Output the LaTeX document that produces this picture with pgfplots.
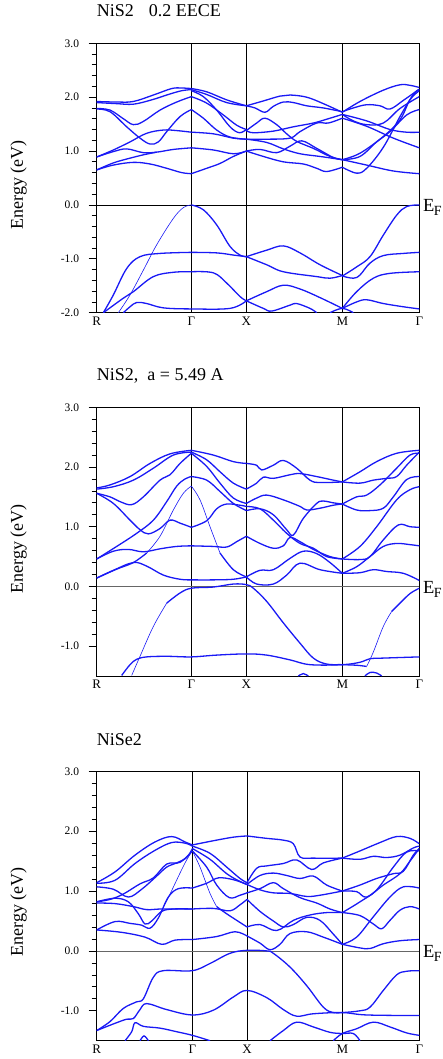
\documentclass[border=0pt]{standalone}
\usepackage{fontspec}
\setmainfont{Liberation Serif}
\usepackage{pgfplots}
\pgfplotsset{compat=1.18}
\definecolor{band}{RGB}{25,25,245}
\pgfplotsset{
  bandaxis/.style={
    scale only axis, width=322.6pt, anchor=north west,
    xmin=290, xmax=1258,
    xticklabels={R,Γ,X,M,Γ},
    xmajorgrids, x grid style={black, line width=0.7pt},
    major x tick style={draw=none},
    minor y tick num=4,
    tick align=outside, ytick pos=left, xtick pos=bottom,
    major tick length=8pt, minor tick length=5pt,
    y tick style={black, line width=0.7pt},
    axis line style={black, line width=0.8pt},
    clip mode=individual,
    cycle list={{band,solid}},
    yticklabel style={font=\fontsize{11.5}{12}\selectfont, inner sep=0pt, anchor=east, xshift=-9.4pt},
    xticklabel style={font=\fontsize{13}{13}\selectfont, inner sep=0pt, anchor=north, yshift=4.2pt},
    every axis plot/.append style={band, line width=1.3pt, smooth, tension=0.6, no marks},
  },
  thin/.style={line width=0.6pt},
}
\newcommand{\EF}{\node[anchor=base west, inner sep=0pt, font=\fontsize{18.5}{20}\selectfont] at (axis cs:1258,0) [xshift=3.5pt, yshift=-6.7pt] {E\kern-0.5pt\raisebox{-4.3pt}{\fontsize{14}{14}\selectfont F}};}
\begin{document}
\begin{tikzpicture}
\path[use as bounding box] (0,0) rectangle (442pt,-1059pt);
% ---------------- Panel 1 ----------------
\node[anchor=base west, inner sep=0pt, font=\fontsize{18}{20}\selectfont] at (96.7pt,-16.7pt) {NiS2\hspace{15pt}0.2 EECE};
\node[rotate=90, inner sep=0pt, font=\fontsize{18}{20}\selectfont] at (18.5pt,-185pt) {Energy (eV)};
\begin{axis}[bandaxis, at={(96.7pt,-43.3pt)}, height=269.4pt,
  ymin=-2, ymax=3, ytick={-2,-1,0,1,2,3}, yticklabels={-2.0,-1.0,0.0,1.0,2.0,3.0},
  xtick={290,574,739,1027,1258}]
\addplot[black, line width=0.7pt] coordinates {(290,0) (1258,0)};
% R-Gamma
\addplot coordinates {(290,1.92)(350,1.91)(400,1.92)(460,2.04)(515,2.16)(545,2.17)(574,2.16)};
\addplot coordinates {(290,1.90)(350,1.88)(400,1.87)(455,1.95)(505,2.05)(545,2.12)(574,2.14)};
\addplot coordinates {(290,1.79)(330,1.76)(370,1.60)(400,1.49)(430,1.55)(480,1.76)(530,1.91)(574,2.01)};
\addplot coordinates {(290,1.78)(330,1.73)(380,1.45)(420,1.24)(450,1.13)(475,1.17)(500,1.36)(540,1.64)(574,1.77)};
\addplot coordinates {(290,0.89)(340,1.02)(390,1.17)(440,1.33)(490,1.39)(530,1.38)(574,1.35)};
\addplot coordinates {(290,0.89)(340,0.99)(380,1.04)(430,0.97)(470,0.98)(520,1.03)(574,1.06)};
\addplot coordinates {(290,0.65)(340,0.74)(400,0.79)(450,0.76)(500,0.68)(545,0.60)(574,0.58)};
\addplot coordinates {(290,0.65)(340,0.78)(385,0.86)(430,0.93)(470,0.98)};
% Gamma-X
\addplot coordinates {(574,2.16)(620,2.10)(680,1.95)(739,1.84)};
\addplot coordinates {(574,2.14)(620,2.05)(680,1.90)(739,1.84)};
\addplot coordinates {(574,2.12)(610,2.01)(650,1.76)(690,1.45)(718,1.34)(739,1.40)};
\addplot coordinates {(574,2.01)(620,1.89)(670,1.67)(710,1.48)(739,1.40)};
\addplot coordinates {(574,1.77)(610,1.61)(650,1.39)(690,1.26)(739,1.22)};
\addplot coordinates {(574,1.35)(640,1.32)(700,1.24)(739,1.22)};
\addplot coordinates {(574,1.06)(640,1.02)(700,0.95)(739,1.00)};
\addplot coordinates {(574,0.58)(620,0.68)(660,0.77)(700,0.90)(739,1.00)};
% X-M
\addplot coordinates {(739,1.84)(790,1.93)(840,2.02)(870,2.04)(920,2.00)(970,1.88)(1027,1.72)};
\addplot coordinates {(739,1.84)(765,1.80)(795,1.72)(820,1.83)(850,1.91)(880,1.90)(920,1.84)(970,1.80)(1027,1.73)};
\addplot coordinates {(739,1.38)(770,1.52)(795,1.61)(830,1.49)(860,1.32)(890,1.18)(940,1.05)(990,0.90)(1027,0.84)};
\addplot coordinates {(739,1.38)(760,1.34)(820,1.37)(880,1.45)(940,1.52)(985,1.60)(1027,1.68)};
\addplot coordinates {(739,1.22)(800,1.22)(870,1.24)(900,1.36)(950,1.52)(985,1.52)(1027,1.61)};
\addplot coordinates {(739,1.22)(800,1.16)(850,1.04)(900,0.95)(960,0.90)(1027,0.84)};
\addplot coordinates {(739,1.00)(780,1.03)(830,0.97)(870,1.09)(905,1.19)(950,1.05)(1000,0.88)(1027,0.84)};
\addplot coordinates {(739,1.00)(790,0.90)(850,0.80)(910,0.76)(950,0.68)(980,0.62)(1027,0.70)};
% M-Gamma
\addplot coordinates {(1027,1.72)(1080,1.92)(1150,2.13)(1200,2.23)(1230,2.22)(1258,2.18)};
\addplot coordinates {(1027,1.73)(1060,1.80)(1100,1.86)(1140,1.84)(1170,1.78)(1210,1.94)(1258,2.15)};
\addplot coordinates {(1027,1.68)(1060,1.56)(1100,1.49)(1150,1.52)(1200,1.79)(1258,2.01)};
\addplot coordinates {(1027,1.68)(1100,1.56)(1170,1.40)(1220,1.35)(1258,1.35)};
\addplot coordinates {(1027,1.61)(1100,1.46)(1180,1.24)(1258,1.06)};
\addplot coordinates {(1027,0.84)(1080,0.90)(1130,1.17)(1170,1.36)(1220,1.67)(1258,1.77)};
\addplot coordinates {(1027,0.84)(1080,0.96)(1150,1.27)(1200,1.58)(1230,1.95)(1258,2.12)};
\addplot coordinates {(1027,0.70)(1070,0.59)(1100,0.68)(1150,1.07)(1200,1.64)(1240,2.05)(1258,2.14)};
\addplot coordinates {(1027,0.84)(1100,0.74)(1180,0.63)(1258,0.58)};
% valence R-Gamma
\addplot[thin] coordinates {(355,-2.0)(390,-1.67)(430,-1.21)(470,-0.74)(520,-0.25)(550,-0.05)(574,0.0)};
\addplot coordinates {(310,-2.0)(340,-1.67)(380,-1.18)(420,-0.96)(480,-0.90)(574,-0.88)};
\addplot coordinates {(310,-2.0)(370,-1.73)(400,-1.61)(460,-1.33)(520,-1.25)(574,-1.24)};
\addplot coordinates {(370,-2.0)(390,-1.89)(410,-1.81)(440,-1.83)(490,-1.91)(574,-1.93)(690,-1.92)(739,-1.78)};
% Gamma-X
\addplot coordinates {(574,0)(610,-0.09)(650,-0.37)(690,-0.77)(720,-0.93)(739,-0.96)};
\addplot coordinates {(574,-0.88)(650,-0.89)(700,-0.93)(739,-0.96)};
\addplot coordinates {(574,-1.24)(640,-1.26)(680,-1.45)(720,-1.70)(739,-1.78)};
% X-M
\addplot coordinates {(739,-0.96)(800,-0.84)(850,-0.76)(900,-0.89)(960,-1.11)(1027,-1.31)};
\addplot coordinates {(739,-0.96)(800,-1.11)(850,-1.24)(950,-1.33)(990,-1.36)(1027,-1.31)};
\addplot coordinates {(739,-1.78)(800,-1.61)(850,-1.49)(900,-1.56)(960,-1.72)(1027,-1.92)};
\addplot coordinates {(739,-1.78)(790,-1.92)(815,-1.97)(870,-1.86)(890,-1.83)(930,-1.92)(950,-2.0)};
\addplot coordinates {(990,-2.0)(1027,-1.92)(1060,-2.0)};
% M-Gamma
\addplot coordinates {(1027,-1.32)(1070,-1.15)(1110,-0.96)(1150,-0.56)(1190,-0.19)(1220,-0.03)(1258,0.0)};
\addplot coordinates {(1027,-1.32)(1060,-1.36)(1080,-1.30)(1110,-1.08)(1150,-0.94)(1210,-0.90)(1258,-0.88)};
\addplot coordinates {(1027,-1.92)(1070,-1.61)(1120,-1.36)(1170,-1.27)(1258,-1.24)};
\addplot coordinates {(1027,-1.92)(1070,-1.80)(1100,-1.76)(1150,-1.83)(1210,-1.89)(1258,-1.93)};
\EF
\end{axis}
% ---------------- Panel 2 ----------------
\node[anchor=base west, inner sep=0pt, font=\fontsize{18}{20}\selectfont] at (96.7pt,-380.7pt) {NiS2,\hspace{9pt}a = 5.49 A};
\node[rotate=90, inner sep=0pt, font=\fontsize{18}{20}\selectfont] at (18.5pt,-549pt) {Energy (eV)};
\begin{axis}[bandaxis, at={(96.7pt,-407.3pt)}, height=268.7pt,
  ymin=-1.5, ymax=3, ytick={-1,0,1,2,3}, yticklabels={-1.0,0.0,1.0,2.0,3.0},
  xtick={290,574,739,1027,1258}]
\addplot[black!60, line width=0.8pt] coordinates {(290,0) (1258,0)};
% R-Gamma
\addplot coordinates {(290,1.65)(330,1.70)(390,1.84)(450,2.06)(510,2.22)(574,2.28)};
\addplot coordinates {(290,1.63)(340,1.67)(400,1.78)(460,1.98)(520,2.20)(574,2.25)};
\addplot coordinates {(290,1.56)(330,1.50)(360,1.42)(395,1.37)(430,1.50)(480,1.78)(510,1.87)(540,2.06)(574,2.23)};
\addplot coordinates {(290,1.56)(340,1.39)(390,1.11)(420,0.95)(445,0.88)(480,0.97)(510,1.11)(540,1.06)(574,0.99)};
\addplot coordinates {(290,0.46)(350,0.67)(410,0.89)(460,1.11)(500,1.42)(530,1.68)(555,1.80)(574,1.84)};
\addplot coordinates {(290,0.46)(340,0.59)(385,0.62)(430,0.58)(480,0.63)(530,0.67)(574,0.68)};
\addplot coordinates {(290,0.14)(350,0.29)(400,0.40)(440,0.56)};
\addplot[thin] coordinates {(440,0.56)(480,0.84)(520,1.28)(550,1.56)(574,1.68)};
\addplot coordinates {(290,0.14)(340,0.27)(400,0.40)(440,0.34)(490,0.19)(540,0.12)(574,0.11)};
% Gamma-X
\addplot coordinates {(574,2.28)(640,2.20)(700,2.09)(739,2.06)};
\addplot coordinates {(574,2.25)(620,2.12)(660,1.92)(700,1.73)(739,1.63)};
\addplot coordinates {(574,2.23)(620,2.01)(660,1.73)(700,1.48)(739,1.39)};
\addplot coordinates {(574,1.84)(620,1.78)(660,1.59)(700,1.39)(739,1.27)};
\addplot coordinates {(574,0.99)(620,1.10)(650,1.30)(680,1.38)(720,1.36)(739,1.34)};
\addplot coordinates {(574,0.68)(640,0.67)(680,0.66)(710,0.75)(739,0.84)};
\addplot[thin] coordinates {(574,1.68)(600,1.45)(630,1.00)(660,0.56)};
\addplot coordinates {(660,0.56)(700,0.28)(739,0.16)};
\addplot coordinates {(574,0.11)(640,0.11)(700,0.12)(739,0.16)};
% X-M
\addplot coordinates {(739,2.06)(770,2.03)(785,1.95)(820,2.03)(850,2.11)(890,1.98)(930,1.78)(960,1.74)(1027,1.75)};
\addplot coordinates {(739,1.63)(770,1.73)(790,1.83)(820,1.81)(870,1.87)(900,1.89)(950,1.84)(1000,1.78)(1027,1.75)};
\addplot coordinates {(739,1.39)(770,1.48)(800,1.53)(850,1.45)(900,1.34)(920,1.28)(960,1.31)(1000,1.36)(1027,1.38)};
\addplot coordinates {(739,1.34)(780,1.30)(820,1.11)(860,0.89)(900,0.72)(940,0.64)(980,0.50)(1027,0.46)};
\addplot coordinates {(739,1.27)(780,1.30)(820,1.20)(860,0.95)(880,0.86)(910,1.14)(950,1.39)(970,1.43)(1000,1.40)(1027,1.38)};
\addplot coordinates {(739,0.84)(780,0.72)(820,0.64)(850,0.68)(870,0.82)(900,0.75)(940,0.62)(990,0.50)(1027,0.46)};
\addplot coordinates {(739,0.16)(780,0.27)(820,0.28)(870,0.47)(910,0.59)(950,0.55)(990,0.40)(1027,0.22)};
\addplot coordinates {(739,0.16)(770,0.04)(820,0.04)(860,0.19)(900,0.39)(960,0.28)(1027,0.22)};
% M-Gamma
\addplot coordinates {(1027,1.75)(1080,1.92)(1130,2.09)(1190,2.23)(1258,2.28)};
\addplot coordinates {(1027,1.75)(1080,1.73)(1120,1.78)(1160,1.81)(1190,1.84)(1220,2.03)(1258,2.25)};
\addplot coordinates {(1027,1.38)(1070,1.28)(1110,1.27)(1150,1.31)(1180,1.50)(1220,1.79)(1258,1.84)};
\addplot coordinates {(1027,1.38)(1070,1.50)(1100,1.53)(1140,1.70)(1190,1.98)(1230,2.20)(1258,2.23)};
\addplot coordinates {(1027,0.46)(1080,0.67)(1130,1.00)(1190,1.45)(1230,1.62)(1258,1.67)};
\addplot coordinates {(1027,0.46)(1080,0.45)(1110,0.50)(1150,0.78)(1195,1.03)(1230,1.00)(1258,0.99)};
\addplot coordinates {(1027,0.22)(1070,0.33)(1110,0.50)(1150,0.67)(1190,0.72)(1230,0.70)(1258,0.68)};
\addplot coordinates {(1027,0.22)(1080,0.23)(1120,0.28)(1160,0.25)(1210,0.22)(1258,0.10)};
% valence
\addplot[thin] coordinates {(395,-1.49)(420,-1.17)(460,-0.67)(500,-0.28)};
\addplot coordinates {(500,-0.28)(540,-0.11)(574,-0.03)(640,-0.01)(700,0.04)(739,0.03)(760,-0.03)(800,-0.25)(850,-0.61)(900,-0.95)(940,-1.20)(980,-1.30)(1027,-1.31)(1070,-1.32)(1100,-1.34)};
\addplot[thin] coordinates {(1100,-1.34)(1120,-1.10)(1150,-0.67)(1175,-0.42)};
\addplot coordinates {(1175,-0.42)(1200,-0.28)(1230,-0.12)(1258,-0.03)};
\addplot coordinates {(365,-1.49)(390,-1.31)(410,-1.22)(440,-1.18)(500,-1.17)(574,-1.18)(650,-1.15)(739,-1.13)(800,-1.15)(870,-1.23)(930,-1.31)(1027,-1.31)(1080,-1.27)(1110,-1.21)(1150,-1.20)(1258,-1.18)};
\addplot coordinates {(895,-1.5)(910,-1.46)(925,-1.5)};
\addplot coordinates {(1095,-1.5)(1110,-1.44)(1130,-1.45)(1145,-1.5)};
\EF
\end{axis}
% ---------------- Panel 3 ----------------
\node[anchor=base west, inner sep=0pt, font=\fontsize{18}{20}\selectfont] at (96.7pt,-745pt) {NiSe2};
\node[rotate=90, inner sep=0pt, font=\fontsize{18}{20}\selectfont] at (18.5pt,-912pt) {Energy (eV)};
\begin{axis}[bandaxis, at={(96.7pt,-771.3pt)}, height=269.4pt,
  ymin=-1.5, ymax=3, ytick={-1,0,1,2,3}, yticklabels={-1.0,0.0,1.0,2.0,3.0},
  xtick={290,577,741,1027,1258}]
\addplot[black!60, line width=0.8pt] coordinates {(290,0) (1258,0)};
% R-Gamma
\addplot coordinates {(290,1.14)(345,1.32)(405,1.60)(465,1.82)(515,1.91)(555,1.82)(577,1.77)};
\addplot coordinates {(290,1.13)(345,1.18)(405,1.46)(465,1.68)(515,1.81)(555,1.80)(577,1.75)};
\addplot coordinates {(290,1.07)(340,1.03)(385,0.90)(425,1.03)(470,1.25)(500,1.40)(530,1.47)(560,1.56)(577,1.71)};
\addplot coordinates {(290,0.82)(330,0.86)(370,0.95)(420,1.12)(460,1.22)(500,1.45)(540,1.48)(577,1.67)};
\addplot coordinates {(290,0.82)(345,0.88)(385,0.82)(415,0.62)(435,0.45)(455,0.50)(485,0.66)(520,0.70)(577,0.70)};
\addplot coordinates {(290,0.80)(345,0.79)(400,0.74)(440,0.69)(485,0.70)(577,0.70)};
\addplot coordinates {(290,0.35)(345,0.49)(390,0.46)(425,0.43)(450,0.38)(475,0.55)(505,0.90)(535,1.04)(577,1.05)};
\addplot[thin] coordinates {(480,0.62)(510,0.95)(540,1.30)(560,1.52)(577,1.67)};
\addplot coordinates {(290,0.35)(365,0.31)(435,0.23)(485,0.11)(525,0.18)(577,0.19)};
% Gamma-X
\addplot coordinates {(577,1.77)(640,1.84)(700,1.90)(741,1.92)};
\addplot coordinates {(577,1.75)(630,1.63)(680,1.40)(720,1.21)(741,1.14)};
\addplot coordinates {(577,1.71)(630,1.53)(680,1.29)(720,1.16)(741,1.11)};
\addplot coordinates {(577,1.67)(620,1.40)(650,1.10)(688,0.89)(720,0.93)(741,0.97)};
\addplot coordinates {(577,1.05)(620,1.13)(655,1.22)(700,1.19)(741,1.11)};
\addplot coordinates {(577,0.70)(640,0.71)(690,0.67)(720,0.77)(741,0.86)};
\addplot[thin] coordinates {(577,1.67)(600,1.40)(630,0.96)(650,0.74)};
\addplot coordinates {(650,0.74)(680,0.62)(741,0.40)};
\addplot coordinates {(577,0.19)(650,0.24)(705,0.32)(741,0.25)};
% X-M
\addplot coordinates {(741,1.92)(800,1.88)(850,1.85)(880,1.79)(900,1.57)(940,1.55)(1027,1.55)};
\addplot coordinates {(741,1.14)(770,1.38)(800,1.42)(850,1.46)(890,1.52)(935,1.36)(970,1.47)(1027,1.55)};
\addplot coordinates {(741,1.11)(780,1.26)(820,1.30)(860,1.26)(900,1.21)(940,1.25)(980,1.10)(1027,1.00)};
\addplot coordinates {(741,1.11)(780,1.02)(820,0.97)(870,0.96)(920,0.91)(960,0.93)(1027,1.00)};
\addplot coordinates {(741,0.97)(780,1.04)(820,1.14)(850,1.04)(900,0.89)(950,0.80)(990,0.70)(1027,0.64)};
\addplot coordinates {(741,0.86)(780,0.66)(820,0.50)(850,0.40)(880,0.44)(920,0.56)(960,0.51)(1000,0.28)(1027,0.11)};
\addplot coordinates {(741,0.40)(780,0.44)(830,0.34)(880,0.51)(930,0.60)(980,0.64)(1027,0.64)};
\addplot coordinates {(741,0.25)(780,0.13)(810,0.02)(840,0.11)(870,0.29)(920,0.32)(970,0.23)(1027,0.11)};
% M-Gamma
\addplot coordinates {(1027,1.55)(1080,1.67)(1140,1.81)(1190,1.91)(1230,1.88)(1258,1.79)};
\addplot coordinates {(1027,1.55)(1080,1.53)(1120,1.58)(1160,1.56)(1200,1.60)(1240,1.72)(1258,1.75)};
\addplot coordinates {(1027,1.00)(1070,0.99)(1100,0.90)(1150,1.10)(1200,1.29)(1230,1.50)(1258,1.71)};
\addplot coordinates {(1027,1.00)(1080,1.10)(1130,1.21)(1180,1.29)(1210,1.33)(1240,1.60)(1258,1.71)};
\addplot coordinates {(1027,0.64)(1080,0.59)(1120,0.45)(1145,0.37)(1170,0.51)(1200,0.68)(1230,0.74)(1258,0.70)};
\addplot coordinates {(1027,0.64)(1080,0.82)(1130,1.02)(1180,1.40)(1220,1.65)(1258,1.67)};
\addplot coordinates {(1027,0.11)(1070,0.23)(1120,0.57)(1170,0.90)(1210,1.07)(1258,1.05)};
\addplot coordinates {(1027,0.11)(1080,0.05)(1110,0.04)(1150,0.12)(1200,0.17)(1258,0.19)};
% valence
\addplot coordinates {(290,-1.33)(330,-1.18)(370,-0.96)(410,-0.85)(430,-0.80)(460,-0.44)(490,-0.33)(577,-0.33)(630,-0.21)(690,-0.04)(741,0.01)(800,0.00)(820,-0.04)(870,-0.27)(920,-0.58)(970,-0.94)(1000,-1.03)(1027,-1.03)(1080,-1.00)(1110,-0.94)(1150,-0.66)(1190,-0.40)(1220,-0.34)(1258,-0.33)};
\addplot coordinates {(290,-1.33)(340,-1.22)(380,-1.14)(400,-1.13)(420,-0.98)(440,-0.88)(500,-0.98)(577,-1.07)(640,-0.99)(700,-0.77)(741,-0.66)(800,-0.78)(850,-0.98)(890,-1.09)(940,-1.05)(1027,-1.03)(1100,-1.07)(1258,-1.08)};
\addplot coordinates {(375,-1.5)(395,-1.35)(405,-1.20)(430,-1.26)(480,-1.29)(530,-1.35)(577,-1.41)(630,-1.5)};
\addplot coordinates {(420,-1.5)(432,-1.42)(445,-1.5)};
\addplot coordinates {(810,-1.5)(850,-1.33)(890,-1.19)(940,-1.27)(990,-1.36)(1027,-1.38)(1060,-1.38)(1080,-1.5)};
\addplot coordinates {(1000,-1.5)(1027,-1.38)(1070,-1.30)(1120,-1.19)(1170,-1.27)(1220,-1.37)(1258,-1.41)};
\EF
\end{axis}
\end{tikzpicture}
\end{document}
